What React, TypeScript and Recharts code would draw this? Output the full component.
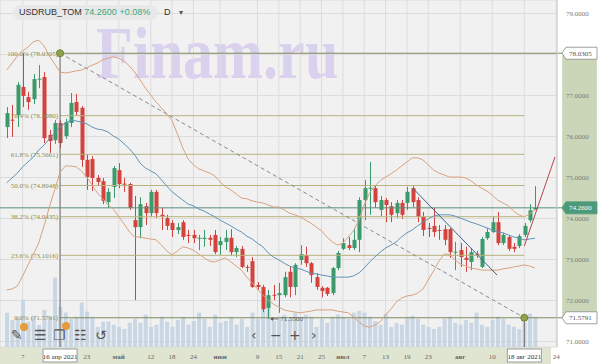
import React from 'react';
import {
  ComposedChart, Bar, Line, XAxis, YAxis, CartesianGrid,
  ReferenceLine, ReferenceArea, ReferenceDot,
} from 'recharts';

const dates = [
  '02.04','05.04','06.04','07.04','08.04','09.04','12.04','13.04','14.04','15.04',
  '16.04','19.04','20.04','21.04','22.04','23.04','26.04','27.04','28.04','29.04',
  '30.04','03.05','04.05','05.05','06.05','07.05','11.05','12.05','13.05','14.05',
  '17.05','18.05','19.05','20.05','21.05','24.05','25.05','26.05','27.05','28.05',
  '31.05','01.06','02.06','03.06','04.06','07.06','08.06','09.06','10.06','11.06',
  '14.06','15.06','16.06','17.06','18.06','21.06','22.06','23.06','24.06','25.06',
  '28.06','29.06','30.06','01.07','02.07','05.07','06.07','07.07','08.07','09.07',
  '12.07','13.07','14.07','15.07','16.07','19.07','20.07','21.07','22.07','23.07',
  '26.07','27.07','28.07','29.07','30.07','02.08','03.08','04.08','05.08','06.08',
  '09.08','10.08','11.08','12.08','13.08','16.08','17.08','18.08','19.08','20.08',
];

const opens = [
  76.23,76.41,76.52,77.21,76.96,76.91,77.39,77.45,76.04,75.91,
  76.33,76.01,76.33,76.84,76.70,75.43,75.45,74.99,74.91,74.40,
  74.77,75.18,74.85,74.84,73.96,73.79,74.30,74.13,74.65,74.09,
  74.01,73.89,73.72,73.91,73.60,73.60,73.52,73.50,73.53,73.60,
  73.35,73.43,73.53,73.18,73.26,72.82,72.96,72.38,72.33,71.82,
  72.14,72.13,72.13,72.70,72.33,72.99,73.11,72.91,72.57,72.31,
  72.31,72.18,72.79,73.26,73.35,73.28,73.48,74.45,74.74,74.74,
  74.21,74.45,74.30,74.13,74.38,74.38,74.74,74.45,74.04,73.77,
  73.82,73.72,73.74,73.74,73.18,73.23,73.04,72.94,73.14,72.82,
  73.52,73.67,73.91,73.40,73.55,73.31,73.33,73.60,73.96,74.22,
];
const highs = [
  76.72,76.77,77.33,78.03,77.09,77.52,77.74,77.57,76.16,76.40,
  76.40,76.43,77.06,77.04,76.74,75.55,75.52,75.06,74.99,74.74,
  75.28,75.35,74.99,74.87,74.55,74.52,74.38,74.70,74.70,74.26,
  74.09,73.96,73.89,73.96,73.72,73.72,73.60,73.72,73.60,73.72,
  73.55,73.72,73.74,73.33,73.33,72.87,73.06,72.45,72.38,72.26,
  72.38,72.43,72.70,72.84,72.91,73.35,73.31,72.94,72.67,72.35,
  72.33,72.82,73.21,73.52,73.55,73.77,74.52,74.94,75.38,74.79,
  74.55,74.50,74.40,74.45,74.45,74.77,74.79,74.52,74.16,73.89,
  74.26,73.84,73.84,73.77,73.43,73.40,73.31,73.28,73.21,73.55,
  73.77,74.04,74.16,73.65,73.60,73.40,73.62,73.89,74.35,74.79,
];
const lows = [
  75.96,75.99,76.23,76.72,76.65,76.79,77.18,75.84,75.60,75.82,
  75.72,75.94,76.23,76.52,75.26,74.70,74.67,74.79,74.35,74.26,
  74.50,74.74,74.65,74.21,72.01,73.52,73.84,74.04,74.01,73.72,
  73.72,73.55,73.62,73.48,73.40,73.40,73.23,73.31,73.33,73.13,
  73.11,73.23,73.11,73.06,72.79,72.70,72.31,72.26,71.72,71.55,
  72.01,71.70,72.08,72.08,72.13,72.87,72.82,72.43,72.26,72.08,
  72.11,72.13,72.74,73.23,73.23,73.23,73.18,73.96,74.09,74.26,
  74.04,73.91,73.91,74.01,73.99,74.21,74.28,73.91,73.57,73.55,
  73.55,73.48,73.35,73.04,72.74,72.82,72.70,72.74,73.04,72.79,
  73.48,73.65,73.35,73.35,73.21,73.18,73.28,73.55,73.91,74.21,
];
const closes = [
  76.57,76.40,77.26,76.99,76.84,77.40,77.41,75.96,75.89,76.33,
  75.84,76.35,76.82,76.60,75.43,75.01,74.99,74.89,74.43,74.65,
  75.23,74.84,74.84,74.26,73.79,74.35,74.13,74.65,74.13,74.04,
  73.82,73.72,73.79,73.55,73.59,73.52,73.53,73.53,73.48,73.18,
  73.45,73.53,73.18,73.28,72.82,72.81,72.33,72.33,71.79,72.13,
  72.13,72.18,72.57,72.33,72.87,73.13,72.91,72.62,72.33,72.23,
  72.16,72.79,73.16,73.40,73.28,73.48,74.45,74.74,74.75,74.40,
  74.45,74.33,74.09,74.38,74.09,74.65,74.40,74.04,73.72,73.76,
  73.67,73.71,73.48,73.18,73.19,73.06,72.99,73.18,73.13,73.50,
  73.67,73.91,73.40,73.60,73.26,73.26,73.57,73.82,74.20,74.26,
];
const volumes = [
  990,780,870,1360,730,870,640,1070,870,2000,
  1160,990,810,870,1280,1020,870,580,730,730,
  640,580,520,700,810,700,930,580,640,870,
  730,580,780,870,640,750,990,810,580,930,
  700,750,870,640,810,580,990,810,1100,1220,
  750,870,930,810,990,780,930,870,580,810,
  700,870,930,870,810,990,1040,990,870,750,
  640,960,580,700,640,870,900,810,640,580,
  520,580,810,870,700,640,780,700,990,640,
  580,780,870,810,640,580,520,700,960,870,
];
const bbUpper = [
  77.62,77.79,77.96,78.09,78.18,78.31,78.35,78.21,77.96,77.77,
  77.57,77.55,77.57,77.60,77.62,77.67,77.74,77.79,77.87,77.91,
  77.94,77.91,77.84,77.72,77.57,77.38,77.18,77.01,76.84,76.70,
  76.55,76.38,76.06,75.72,75.45,75.31,75.21,75.16,75.11,75.04,
  74.89,74.77,74.70,74.60,74.50,74.48,74.43,74.40,74.38,74.33,
  74.28,74.28,74.21,74.13,74.09,74.04,73.96,73.89,73.79,73.70,
  73.55,73.43,73.35,73.40,73.55,73.70,73.96,74.33,74.62,74.79,
  74.92,75.01,75.09,75.18,75.28,75.38,75.48,75.48,75.43,75.31,
  75.18,75.11,75.06,75.01,75.01,75.01,74.99,74.92,74.82,74.74,
  74.67,74.57,74.45,74.38,74.31,74.18,74.09,74.04,74.11,74.21,
];
const bbMiddle = [
  74.87,74.99,75.11,75.26,75.38,75.50,75.67,75.79,75.94,76.09,
  76.23,76.33,76.40,76.38,76.35,76.31,76.23,76.18,76.16,76.11,
  76.01,75.94,75.82,75.70,75.55,75.35,75.23,75.16,75.09,74.94,
  74.79,74.65,74.55,74.45,74.35,74.31,74.23,74.18,74.11,74.04,
  73.96,73.89,73.82,73.74,73.67,73.57,73.50,73.40,73.31,73.16,
  73.06,72.99,72.91,72.84,72.79,72.77,72.72,72.67,72.65,72.62,
  72.60,72.57,72.57,72.57,72.57,72.60,72.67,72.79,72.94,73.06,
  73.18,73.28,73.35,73.43,73.55,73.65,73.72,73.82,73.91,73.99,
  74.06,74.09,74.09,74.09,74.06,74.01,73.96,73.91,73.87,73.82,
  73.77,73.72,73.67,73.65,73.60,73.55,73.52,73.48,73.50,73.52,
];
const bbLower = [
  72.26,72.28,72.35,72.60,72.87,73.13,73.40,73.82,74.28,74.70,
  75.13,75.28,75.28,75.26,75.16,75.01,74.82,74.62,74.48,74.33,
  74.23,74.04,73.87,73.67,73.55,73.55,73.52,73.50,73.48,73.35,
  73.21,73.11,73.21,73.31,73.28,73.23,73.13,73.04,72.96,72.94,
  72.99,73.04,72.94,72.84,72.74,72.57,72.43,72.28,72.13,72.01,
  71.91,71.84,71.77,71.74,71.72,71.70,71.72,71.74,71.77,71.77,
  71.77,71.77,71.74,71.72,71.70,71.60,71.48,71.38,71.35,71.40,
  71.48,71.65,71.79,71.96,72.06,72.11,72.13,72.18,72.28,72.50,
  72.72,72.96,73.13,73.13,72.99,72.89,72.84,72.79,72.77,72.74,
  72.74,72.74,72.74,72.77,72.79,72.82,72.84,72.87,72.84,72.79,
];

const xTickIdx = [3, 10, 15, 21, 27, 31, 35, 40, 47, 51, 55, 59, 63, 67, 71, 75, 79, 85, 91, 97, 103];
const xTickLabels = ['7', '16 апр 2021', '23', 'май', '12', '18', '24', 'июн', '9', '15', '21', '25', 'июл', '7', '13', '19', '23', 'авг', '10', '18 авг 2021', '24'];
const yTicks = [71, 72, 73, 74, 75, 76, 77, 78, 79];

const fibLevels = [78.0305, 76.508, 75.5661, 74.8048, 74.0435, 73.1016, 71.5791];
const fibNames = ['100.0%', '76.4%', '61.8%', '50.0%', '38.2%', '23.6%', '0.0%'];
const fibStart = 10;
const fibEnd = 97;
const lastPrice = 74.26;
const lowIdx = 49;
const lowValue = 71.55;
const trendLine = [{ x: 76.1, y: 74.74 }, { x: 91.9, y: 72.62 }];
const rayLine = [{ x: 97, y: 73.33 }, { x: 102.75, y: 75.5 }];

const X_DOMAIN: [number, number] = [-1.256, 103.13];
const Y_DOMAIN: [number, number] = [70.866, 79.329];

const data = dates.map((d, i) => ({
  idx: i,
  date: d,
  range: [lows[i], highs[i]],
  open: opens[i],
  high: highs[i],
  low: lows[i],
  close: closes[i],
  vol: volumes[i],
  bbU: bbUpper[i],
  bbM: bbMiddle[i],
  bbL: bbLower[i],
}));

const SERIF = '"Liberation Serif", "DejaVu Serif", serif';
const SANS = '"Liberation Sans", Arial, sans-serif';

const Candle = (props: any) => {
  const { x, y, width, height, payload } = props;
  if (!payload) return null;
  const { open, close, high, low } = payload;
  const up = close >= open;
  const color = up ? '#3b9a6b' : '#d2433e';
  const top = Math.min(y, y + height);
  const h = Math.abs(height);
  const span = high - low || 1e-6;
  const py = (v: number) => top + ((high - v) / span) * h;
  const cx = Math.round(x + width / 2) + 0.5;
  const bt = py(Math.max(open, close));
  const bb = py(Math.min(open, close));
  return (
    <g>
      <line x1={cx} x2={cx} y1={top} y2={top + h} stroke={color} strokeWidth={1} />
      <rect x={cx - 2} y={bt} width={4} height={Math.max(1, bb - bt)} fill={color} />
    </g>
  );
};

const XTick = (props: any) => {
  const { x, y, payload } = props;
  const k = xTickIdx.indexOf(payload.value);
  if (k < 0) return null;
  const label = xTickLabels[k];
  const boxed = label.length > 4;
  const bold = /[а-я]/.test(label) && !boxed;
  return (
    <g>
      {boxed && (
        <rect x={x - 17} y={y + 2} width={34} height={13} fill="#ffffff" stroke="#8a8a8a" strokeWidth={0.8} />
      )}
      <text x={x} y={y + 11.5} textAnchor="middle" fontSize={7} fill={boxed ? '#333' : '#666'}
        fontFamily={SERIF} fontWeight={bold ? 'bold' : 'normal'}>
        {label}
      </text>
    </g>
  );
};

const YTick = (props: any) => {
  const { x, y, payload } = props;
  // the 78 label sits under the boxed 78.0305 level in the reference
  if (Math.abs(payload.value - fibLevels[0]) < 0.15) return null;
  return (
    <text x={x + 9} y={y + 2.5} fontSize={7} fill="#7a7a7a" fontFamily={SERIF}>
      {Number(payload.value).toFixed(4)}
    </text>
  );
};

const FibLabel = (props: any) => {
  const { viewBox, text } = props;
  if (!viewBox) return null;
  return (
    <text x={viewBox.x - 2} y={viewBox.y + 2.5} textAnchor="end" fontSize={7} fill="#8e8c4c" fontFamily={SERIF}>
      {text}
    </text>
  );
};

const PriceBox = (props: any) => {
  const { viewBox, text, fill, color, stroke, lineColor } = props;
  if (!viewBox) return null;
  const x0 = viewBox.x + viewBox.width;
  const y = viewBox.y;
  const d = `M${x0 + 5},${y} L${x0 + 9},${y - 6} L${x0 + 40},${y - 6} L${x0 + 40},${y + 6} L${x0 + 9},${y + 6} Z`;
  return (
    <g>
      <line x1={x0} x2={x0 + 5} y1={y} y2={y} stroke={lineColor} strokeWidth={1} />
      <path d={d} fill={fill} stroke={stroke} strokeWidth={0.8} />
      <text x={x0 + 12} y={y + 2.5} fontSize={7} fill={color} fontFamily={SERIF}>{text}</text>
    </g>
  );
};

const LowLabel = (props: any) => {
  const { viewBox } = props;
  if (!viewBox) return null;
  const cx = viewBox.x + (viewBox.width || 0) / 2;
  const cy = viewBox.y + (viewBox.height || 0) / 2;
  return (
    <g>
      <line x1={cx + 3} x2={cx + 10} y1={cy} y2={cy} stroke="#555" strokeWidth={0.8} />
      <path d={`M${cx + 2},${cy} L${cx + 5},${cy - 2} L${cx + 5},${cy + 2} Z`} fill="#555" />
      <text x={cx + 12} y={cy + 2.5} fontSize={7} fill="#555" fontFamily={SERIF}>{lowValue.toFixed(4)}</text>
    </g>
  );
};

const fontCss = `
@font-face {
  font-family: 'WatermarkSerif';
  src: local('Liberation Serif Bold'), local('LiberationSerif-Bold');
  font-weight: bold;
  ascent-override: 70%;
  descent-override: 5%;
  line-gap-override: 0%;
}
`;

const App = () => {
  return (
    <div style={{ position: 'absolute', left: 0, top: 0, width: 600, height: 364, background: '#ffffff', overflow: 'hidden' }}>
      <style>{fontCss}</style>
      <div style={{ position: 'absolute', left: 0, top: 0, width: 557, height: 347, background: '#f1f1f1' }} />
      <div style={{ position: 'absolute', left: 0, top: 347, width: 551, height: 17, background: '#dfe5d0' }} />
      <div style={{
        position: 'absolute', left: 96, top: 25, fontFamily: `'WatermarkSerif', ${SERIF}`, fontWeight: 'bold', fontSize: 60, lineHeight: '45px',
        color: '#d9d1ee', transform: 'scaleY(1.25)', transformOrigin: 'top left', whiteSpace: 'nowrap',
      }}>Finam.ru</div>
      <div style={{ position: 'absolute', left: 0, top: 0 }}>
        <ComposedChart width={600} height={364} data={data} margin={{ top: 0, right: 0, bottom: 0, left: 0 }}>
          <CartesianGrid stroke="#dcdcdc" strokeWidth={1} />
          <XAxis dataKey="idx" type="number" domain={X_DOMAIN} allowDataOverflow ticks={xTickIdx}
            interval={0} height={17} tickSize={0} tickMargin={0} axisLine={false} tickLine={false} tick={<XTick />} />
          <XAxis xAxisId="v" dataKey="idx" type="number" domain={X_DOMAIN} allowDataOverflow hide />
          <YAxis orientation="right" type="number" domain={Y_DOMAIN} allowDataOverflow ticks={yTicks}
            interval={0} width={43} tickSize={0} tickMargin={0} axisLine={{ stroke: '#cfcfcf' }} tickLine={false} tick={<YTick />} />
          <YAxis yAxisId="v" type="number" domain={[0, 10000]} hide />

          <ReferenceArea x1={104.1} x2={110.6} y1={fibLevels[6]} y2={fibLevels[0]} ifOverflow="visible"
            fill="#cbd6b8" fillOpacity={1} stroke="none" />

          <Bar xAxisId="v" yAxisId="v" dataKey="vol" barSize={4} fill="#bfd0e0" fillOpacity={0.8} isAnimationActive={false} />

          {fibLevels.slice(1, 6).map((lv, k) => (
            <ReferenceLine key={`fib${k}`} segment={[{ x: fibStart, y: lv }, { x: fibEnd, y: lv }]}
              stroke="#b7b37c" strokeWidth={1} ifOverflow="visible"
              label={<FibLabel text={`${fibNames[k + 1]} (${lv.toFixed(4)})`} />} />
          ))}
          <ReferenceLine segment={[{ x: fibStart, y: fibLevels[0] }, { x: X_DOMAIN[1], y: fibLevels[0] }]}
            stroke="#7e8a62" strokeWidth={1} ifOverflow="visible"
            label={<FibLabel text={`${fibNames[0]} (${fibLevels[0].toFixed(4)})`} />} />
          <ReferenceLine segment={[{ x: fibStart, y: fibLevels[6] }, { x: X_DOMAIN[1], y: fibLevels[6] }]}
            stroke="#7e8a62" strokeWidth={1} ifOverflow="visible"
            label={<FibLabel text={`${fibNames[6]} (${fibLevels[6].toFixed(4)})`} />} />
          <ReferenceLine segment={[{ x: fibStart, y: fibLevels[0] }, { x: fibStart, y: Y_DOMAIN[0] }]}
            stroke="#6a6a6a" strokeWidth={1} ifOverflow="visible" />
          <ReferenceLine segment={[{ x: fibEnd, y: fibLevels[6] }, { x: fibEnd, y: Y_DOMAIN[0] }]}
            stroke="#6a6a6a" strokeWidth={1} ifOverflow="visible" />
          <ReferenceLine segment={[{ x: fibStart, y: fibLevels[0] }, { x: fibEnd, y: fibLevels[6] }]}
            stroke="#8a8a8a" strokeWidth={1} strokeDasharray="4 3" ifOverflow="visible" />
          <ReferenceLine y={lastPrice} stroke="#5d8c7e" strokeWidth={1} ifOverflow="visible" />

          <Line dataKey="bbU" type="linear" stroke="#d9a27e" strokeWidth={1} dot={false} activeDot={false} isAnimationActive={false} />
          <Line dataKey="bbL" type="linear" stroke="#d9a27e" strokeWidth={1} dot={false} activeDot={false} isAnimationActive={false} />
          <Line dataKey="bbM" type="linear" stroke="#5f94b8" strokeWidth={1} dot={false} activeDot={false} isAnimationActive={false} />

          <ReferenceLine segment={trendLine} stroke="#3c6288" strokeWidth={1} ifOverflow="visible" />
          <ReferenceLine segment={rayLine} stroke="#b4474d" strokeWidth={1} ifOverflow="visible" />

          <Bar dataKey="range" barSize={4} shape={<Candle />} isAnimationActive={false} />

          <ReferenceDot x={fibStart} y={fibLevels[0]} r={3.5} fill="#8fa24c" stroke="#6f8236" ifOverflow="visible" />
          <ReferenceDot x={fibEnd} y={fibLevels[6]} r={3.5} fill="#8fa24c" stroke="#6f8236" ifOverflow="visible" />
          <ReferenceDot x={lowIdx} y={lowValue} r={0} fill="none" stroke="none" ifOverflow="visible" label={<LowLabel />} />

          <ReferenceLine segment={[{ x: X_DOMAIN[1] - 0.001, y: fibLevels[0] }, { x: X_DOMAIN[1], y: fibLevels[0] }]}
            stroke="none" ifOverflow="visible"
            label={<PriceBox text={fibLevels[0].toFixed(4)} fill="#ffffff" color="#555" stroke="#888" lineColor="#7e8a62" />} />
          <ReferenceLine segment={[{ x: X_DOMAIN[1] - 0.001, y: fibLevels[6] }, { x: X_DOMAIN[1], y: fibLevels[6] }]}
            stroke="none" ifOverflow="visible"
            label={<PriceBox text={fibLevels[6].toFixed(4)} fill="#ffffff" color="#555" stroke="#888" lineColor="#7e8a62" />} />
          <ReferenceLine segment={[{ x: X_DOMAIN[1] - 0.001, y: lastPrice }, { x: X_DOMAIN[1], y: lastPrice }]}
            stroke="none" ifOverflow="visible"
            label={<PriceBox text={lastPrice.toFixed(4)} fill="#4d9a7b" color="#ffffff" stroke="#4d9a7b" lineColor="#5d8c7e" />} />
        </ComposedChart>
      </div>
      <div style={{
        position: 'absolute', left: 13, top: 5, width: 145, height: 15, paddingLeft: 6, boxSizing: 'border-box', borderRadius: 8,
        background: '#e8e8e8', fontFamily: SANS, fontSize: 9, lineHeight: '15px', whiteSpace: 'nowrap',
      }}>
        <span style={{ color: '#333' }}>USDRUB_TOM </span>
        <span style={{ color: '#3fa57c' }}>74.2600 +0.08%</span>
      </div>
      <div style={{ position: 'absolute', left: 164, top: 5, fontFamily: SANS, fontSize: 9, lineHeight: '15px', color: '#333' }}>D</div>
      <div style={{ position: 'absolute', left: 179, top: 5, fontFamily: '"DejaVu Sans", sans-serif', fontSize: 8, lineHeight: '15px', color: '#555' }}>▾</div>
      {[
        { t: '✎', x: 11 }, { t: '☰', x: 34 }, { t: '❐', x: 53 }, { t: '☷', x: 74 }, { t: '↺', x: 95 },
        { t: '‹', x: 251 }, { t: '−', x: 270 }, { t: '+', x: 289 }, { t: '›', x: 311 },
      ].map((ic, k) => (
        <div key={k} style={{ position: 'absolute', left: ic.x, top: 327, fontFamily: '"DejaVu Sans", sans-serif', fontSize: 14, lineHeight: '16px', color: '#555' }}>{ic.t}</div>
      ))}
      <div style={{ position: 'absolute', left: 20, top: 323, width: 8, height: 8, borderRadius: 4, background: '#e79a3c' }} />
      <div style={{ position: 'absolute', left: 62, top: 322, width: 8, height: 8, borderRadius: 4, background: '#e79a3c' }} />
    </div>
  );
};

export default App;
